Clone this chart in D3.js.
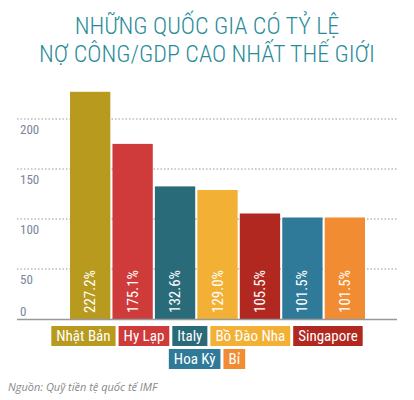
<!DOCTYPE html>
<html><head><meta charset="utf-8">
<script src="https://cdn.jsdelivr.net/npm/d3@7"></script>
<style>
body{margin:0;background:#fff;font-family:"Liberation Sans Narrow","Roboto Condensed","Open Sans",sans-serif;}
</style></head><body>
<svg id="c" width="414" height="400"></svg>
<script>
var countries = ["Nhật Bản","Hy Lạp","Italy","Bồ Đào Nha","Singapore","Hoa Kỳ","Bỉ"];
var debtRatio = [227.2,175.1,132.6,129.0,105.5,101.5,101.5];
var colors = ["#B89A1E","#CF3A3A","#2A6B7A","#F2B035","#B0281F","#2F7A98","#F28C33"];
var yTicks = [0,50,100,150,200];
var titleLines = ["NHỮNG QUỐC GIA CÓ TỶ LỆ","NỢ CÔNG/GDP CAO NHẤT THẾ GIỚI"];

var svg = d3.select("#c");
var x = d3.scaleBand().domain(countries).range([70, 365]).paddingInner(0.05);
var y = d3.scaleLinear().domain([0, 250]).range([319, 69]);

svg.selectAll(".title").data(titleLines).enter().append("text")
  .attr("x", 207).attr("y", function(d,i){ return 34 + i*28; })
  .attr("text-anchor","middle").attr("fill","#2A8C9A")
  .style("font-size","24px").style("font-weight","300").text(function(d){ return d; });

// grid
svg.selectAll(".grid").data(yTicks.slice(1)).enter().append("line")
  .attr("x1",17).attr("x2",397)
  .attr("y1",function(d){ return y(d); }).attr("y2",function(d){ return y(d); })
  .attr("stroke","#999").attr("stroke-dasharray","1.5,2");
svg.selectAll(".tick").data(yTicks).enter().append("text")
  .attr("x",20).attr("y",function(d){ return d===0 ? y(d)-3 : y(d)+15; })
  .attr("fill","#7a8699").style("font-size","13px").text(function(d){ return d; });

svg.selectAll(".bar").data(debtRatio).enter().append("rect")
  .attr("x",function(d,i){ return x(countries[i]); })
  .attr("y",function(d){ return y(d); })
  .attr("width",x.bandwidth()).attr("height",function(d){ return y(0)-y(d); })
  .attr("fill",function(d,i){ return colors[i]; });

svg.selectAll(".val").data(debtRatio).enter().append("text")
  .attr("transform",function(d,i){ return "translate(" + (x(countries[i]) + x.bandwidth()/2 + 5) + ",313) rotate(-90)"; })
  .attr("fill","#fff").style("font-size","15px")
  .text(function(d){ return d.toFixed(1) + "%"; });

svg.append("line").attr("x1",17).attr("x2",397).attr("y1",319.5).attr("y2",319.5)
  .attr("stroke","#999").attr("stroke-width",1.5);

// legend
var rows = [[0,1,2,3,4],[5,6]];
rows.forEach(function(row, r){
  var g = svg.append("g");
  var cx = 0, items = [];
  row.forEach(function(i){
    var t = g.append("text").attr("y", 341 + r*23).attr("fill","#fff")
      .style("font-size","15px").text(countries[i]);
    var w = t.node().getComputedTextLength() + 10;
    items.push({i:i, t:t, w:w, x:cx});
    cx += w + 3;
  });
  var off = 207 - (cx - 3)/2;
  items.forEach(function(it){
    g.insert("rect","text").attr("x", off + it.x).attr("y", 326 + r*23)
      .attr("width", it.w).attr("height", 20).attr("fill", colors[it.i]);
    it.t.attr("x", off + it.x + 5);
  });
});

svg.append("text").attr("x",8).attr("y",391).attr("fill","#888")
  .style("font-size","11px").style("font-style","italic")
  .style("font-family","'Open Sans',sans-serif")
  .text("Nguồn: Quỹ tiền tệ quốc tế IMF");
</script></body></html>
